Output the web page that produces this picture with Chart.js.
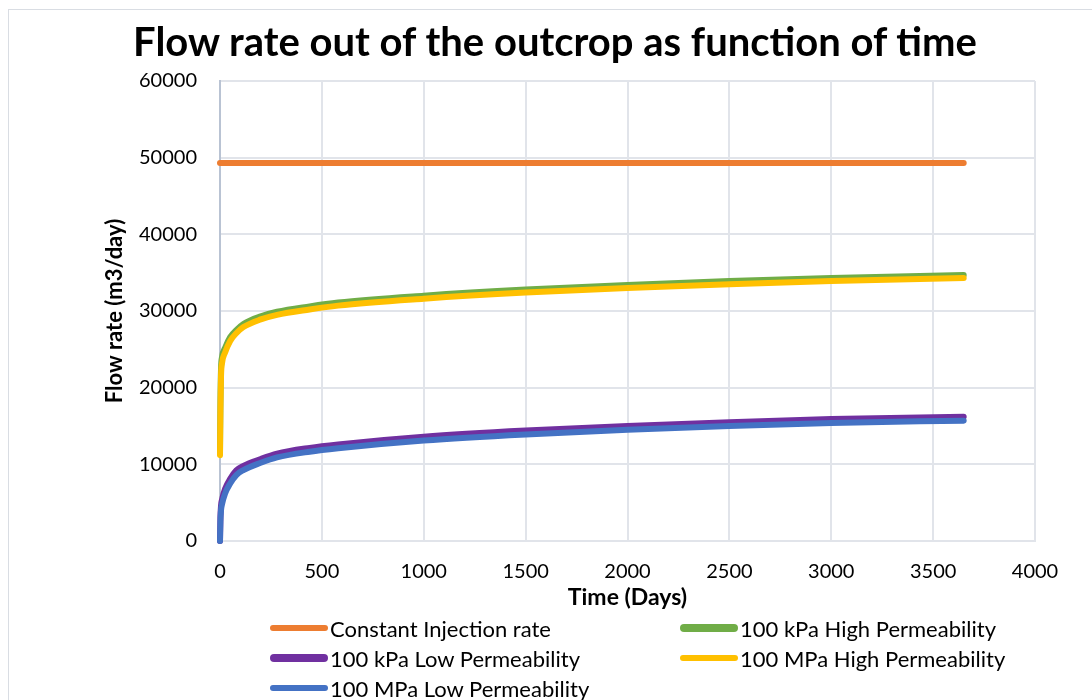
<!DOCTYPE html>
<html>
<head>
<meta charset="utf-8">
<script src="https://cdn.jsdelivr.net/npm/chart.js@4.4.1/dist/chart.umd.min.js"></script>
<style>
  html, body { margin: 0; padding: 0; background: #fff; }
  #wrap { position: relative; width: 1092px; height: 700px; overflow: hidden; font-family: Lato, sans-serif; }
  #frame { position: absolute; left: 8px; top: 9px; width: 1200px; height: 800px; border: 1px solid #d9dde3; }
  canvas { position: absolute; left: 0; top: 0; }
  #title { position: absolute; left: 0; width: 1110px; top: 17px; text-align: center; font-size: 40px; font-weight: bold; color: #000; line-height: 48px; white-space: nowrap; }
  .item { position: absolute; height: 26px; display: flex; align-items: center; font-size: 22px; color: #000; white-space: nowrap; }
  .sw { display: inline-block; width: 58px; border-radius: 4px; margin-right: 2px; }
</style>
</head>
<body>
<div id="wrap">
  <div id="frame"></div>
  <canvas id="flowChart" width="1092" height="700"></canvas>
  <div id="title">Flow rate out of the outcrop as function of time</div>
  <div id="legend"></div>
</div>
<script>
const days      = [0, 2, 5, 10, 25, 50, 80, 115, 200, 280, 440, 580, 1000, 1500, 2000, 2500, 3000, 3650];
const constRate = [49300, 49300, 49300, 49300, 49300, 49300, 49300, 49300, 49300, 49300, 49300, 49300, 49300, 49300, 49300, 49300, 49300, 49300];
const kpaHigh   = [11400, 18000, 22500, 24000, 25200, 26600, 27500, 28300, 29300, 29900, 30600, 31100, 32000, 32800, 33400, 33900, 34300, 34700];
const kpaLow    = [0, 3000, 4600, 5400, 6800, 8100, 9200, 9800, 10700, 11400, 12150, 12600, 13600, 14400, 15000, 15500, 15900, 16200];
const mpaHigh   = [11200, 17000, 21500, 23200, 24600, 26100, 27100, 27900, 28900, 29500, 30200, 30700, 31600, 32400, 33000, 33500, 33900, 34300];
const mpaLow    = [0, 2500, 4000, 4800, 6200, 7500, 8600, 9250, 10200, 10900, 11650, 12100, 13100, 13900, 14500, 15000, 15400, 15700];

const seriesNames = ['Constant Injection rate', '100 kPa High Permeability', '100 kPa Low Permeability', '100 MPa High Permeability', '100 MPa Low Permeability'];
const seriesColors = ['#ed7d31', '#70ad47', '#7030a0', '#ffc000', '#4472c4'];
const seriesValues = [constRate, kpaHigh, kpaLow, mpaHigh, mpaLow];
const drawOrder = [4, 3, 2, 1, 0];

const datasets = seriesNames.map((name, i) => ({
  label: name,
  data: days.map((d, j) => ({ x: d, y: seriesValues[i][j] })),
  borderColor: seriesColors[i],
  backgroundColor: seriesColors[i],
  borderWidth: 6,
  borderCapStyle: 'round',
  borderJoinStyle: 'round',
  pointRadius: 0,
  cubicInterpolationMode: 'monotone',
  clip: false,
  order: drawOrder[i]
}));

const tickFont = { family: 'Lato', size: 20 };
const plain = v => String(v);

new Chart(document.getElementById('flowChart').getContext('2d'), {
  type: 'line',
  data: { datasets },
  options: {
    responsive: false,
    animation: false,
    layout: { padding: { left: 0, right: 57, top: 81, bottom: 89 } },
    plugins: {
      legend: { display: false },
      tooltip: { enabled: false }
    },
    scales: {
      x: {
        type: 'linear',
        min: 0,
        max: 4000,
        afterFit: s => { s.height = 70; },
        ticks: { stepSize: 500, color: '#000', font: tickFont, padding: 19, maxRotation: 0, callback: plain },
        grid: { color: '#e1e4ea', lineWidth: 2, drawTicks: false },
        border: { color: '#e1e4ea', width: 2 },
        title: { display: true, text: 'Time (Days)', color: '#000', padding: 0,
                 font: { family: 'Lato', size: 23, weight: 'bold', lineHeight: 1.2 } }
      },
      y: {
        min: 0,
        max: 60000,
        afterFit: s => { s.width = 220; },
        ticks: { stepSize: 10000, color: '#000', font: tickFont, padding: 23, callback: plain },
        grid: { color: '#e1e4ea', lineWidth: 2, drawTicks: false },
        border: { color: '#b9c3d3', width: 2 },
        title: { display: true, text: 'Flow rate (m3/day)', color: '#000', padding: { top: 102, bottom: 0 },
                 font: { family: 'Lato', size: 22, weight: 'bold', lineHeight: 1.2 } }
      }
    }
  }
});

// legend laid out in two columns like the original
const legendPos = [[270, 628], [680, 628], [270, 658], [680, 658], [270, 688]];
const swatchH = [6, 8, 8, 6, 6];
const legend = document.getElementById('legend');
seriesNames.forEach((name, i) => {
  const el = document.createElement('div');
  el.className = 'item';
  el.style.left = legendPos[i][0] + 'px';
  el.style.top = (legendPos[i][1] - 13) + 'px';
  el.innerHTML = '<span class="sw" style="height:' + swatchH[i] + 'px;background:' + seriesColors[i] + '"></span>' + name;
  legend.appendChild(el);
});
</script>
</body>
</html>
